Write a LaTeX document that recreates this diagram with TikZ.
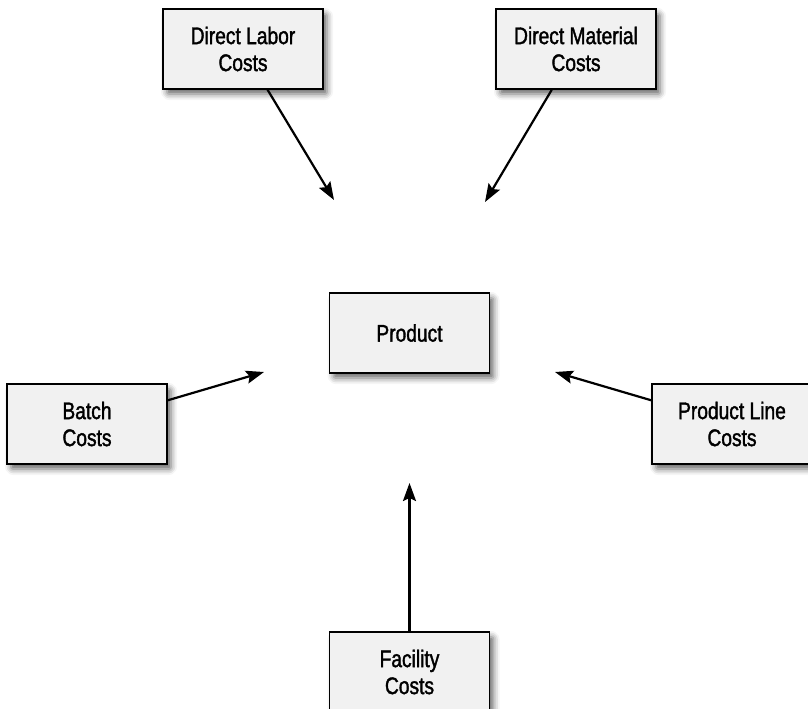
\documentclass[tikz,border=0pt]{standalone}
\usepackage{fontspec}
\setmainfont{Liberation Sans}[FakeStretch=0.8,FakeBold=1.5]
\usetikzlibrary{arrows.meta,shadows.blur}

\definecolor{boxgray}{HTML}{F1F1F1}
\definecolor{shadowgray}{HTML}{7A8290}

\tikzset{
  costbox/.style={draw=black, line width=1.5pt, fill=boxgray,
    minimum width=160pt, minimum height=80pt, inner sep=0pt,
    align=center, font=\fontsize{24}{27}\selectfont,
    blur shadow={shadow xshift=4pt, shadow yshift=-5pt, shadow blur radius=6pt,
      shadow opacity=60, shadow blur extra rounding=2pt}},
  flow/.style={line width=2.2pt, -{Stealth[length=18pt,width=13pt,inset=3pt]}}
}

\begin{document}
\begin{tikzpicture}[x=1pt,y=-1pt]

\useasboundingbox (0,0) rectangle (808,709);

\node[costbox] (labor) at (243,49) {Direct Labor\\Costs};
\node[costbox] (material) at (576,49) {Direct Material\\Costs};
\node[costbox] (product) at (409.5,333) {Product};
\node[costbox] (batch) at (87,424) {Batch\\Costs};
\node[costbox] (line) at (732,424) {Product Line\\Costs};
\node[costbox] (facility) at (409.5,672) {Facility\\Costs};

\coordinate (laborTip) at (334,200);
\coordinate (materialTip) at (485,202);
\coordinate (batchTip) at (264,372);
\coordinate (lineTip) at (555,372);
\coordinate (facilityTip) at (409.5,483);

\draw[flow] (labor) -- (laborTip);
\draw[flow] (material) -- (materialTip);
\draw[flow] (batch) -- (batchTip);
\draw[flow] (line) -- (lineTip);
\draw[flow] (facility) -- (facilityTip);

\end{tikzpicture}
\end{document}
